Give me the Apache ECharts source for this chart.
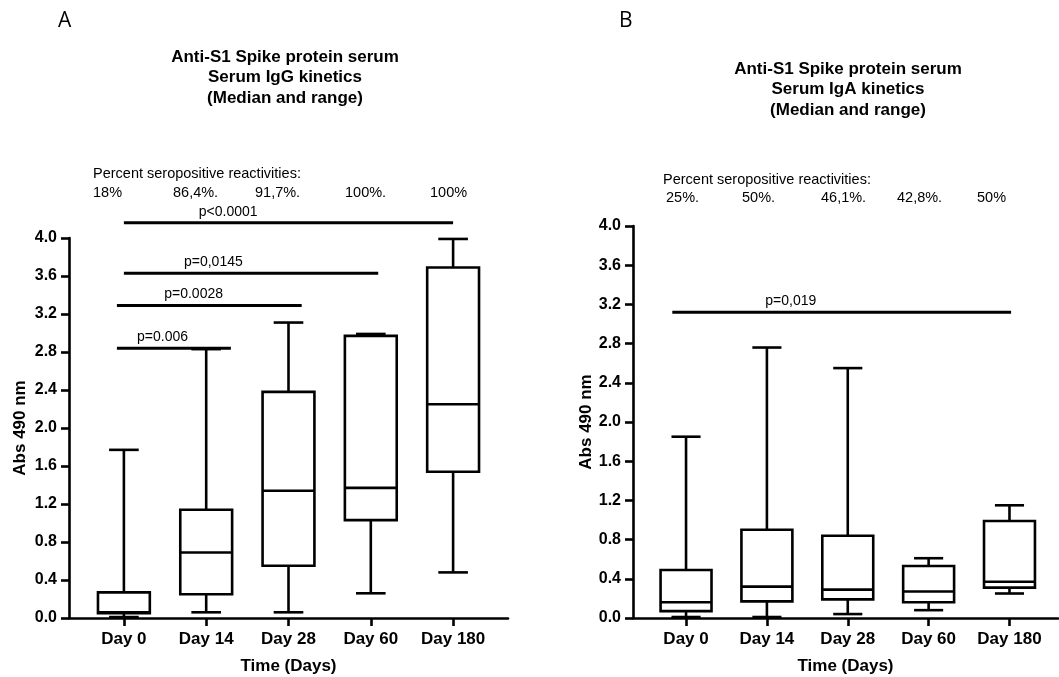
<!DOCTYPE html>
<html>
<head>
<meta charset="utf-8">
<script src="https://cdn.jsdelivr.net/npm/echarts@6/dist/echarts.min.js"></script>
<style>
  html, body { margin: 0; padding: 0; background: #fff; }
  #chart { width: 1059px; height: 677px; }
</style>
</head>
<body>
<div id="chart"></div>
<script>
const days = ['Day 0', 'Day 14', 'Day 28', 'Day 60', 'Day 180'];

// IgG: min, Q1, median, Q3, max per day
const iggMin = [0.01, 0.06, 0.06, 0.26, 0.48];
const iggQ1 = [0.05, 0.25, 0.55, 1.03, 1.54];
const iggMed = [0.06, 0.69, 1.34, 1.37, 2.25];
const iggQ3 = [0.27, 1.14, 2.38, 2.97, 3.69];
const iggMax = [1.77, 2.83, 3.11, 2.99, 3.99];

// IgA
const igaMin = [0.01, 0.01, 0.04, 0.08, 0.25];
const igaQ1 = [0.07, 0.17, 0.19, 0.16, 0.31];
const igaMed = [0.16, 0.32, 0.29, 0.27, 0.37];
const igaQ3 = [0.49, 0.90, 0.84, 0.53, 0.99];
const igaMax = [1.85, 2.76, 2.55, 0.61, 1.15];

const iggPct = ['18%', '86,4%.', '91,7%.', '100%.', '100%'];
const igaPct = ['25%.', '50%.', '46,1%.', '42,8%.', '50%'];

// significance bars: from / to (category index), height
const iggBars = [[0, 4, 4.16], [0, 3.09, 3.63], [-0.085, 2.16, 3.29], [-0.085, 1.3, 2.84]];
const iggBarText = ['p<0.0001', 'p=0,0145', 'p=0.0028', 'p=0.006'];
const iggBarTextX = [0.91, 0.73, 0.49, 0.16];
const igaBars = [[-0.17, 4.02, 3.12]];
const igaBarText = ['p=0,019'];
const igaBarTextX = [0.98];

const FONT = '"Liberation Sans", Arial, Helvetica, sans-serif';

function boxRows(mn, q1, md, q3, mx) {
  return days.map((d, i) => [i, mn[i], q1[i], md[i], q3[i], mx[i]]);
}

function boxItem(params, api) {
  const x = api.value(0);
  const lo = api.coord([x, api.value(1)]);
  const q1 = api.coord([x, api.value(2)]);
  const md = api.coord([x, api.value(3)]);
  const q3 = api.coord([x, api.value(4)]);
  const hi = api.coord([x, api.value(5)]);
  const band = api.size([1, 0])[0];
  const bw = band * 0.63 / 2;
  const cw = band * 0.36 / 2;
  const cx = lo[0];
  const st = { stroke: '#000', lineWidth: 2.6, fill: null };
  return {
    type: 'group',
    children: [
      { type: 'line', shape: { x1: cx, y1: hi[1], x2: cx, y2: q3[1] }, style: st },
      { type: 'line', shape: { x1: cx - cw, y1: hi[1], x2: cx + cw, y2: hi[1] }, style: st },
      { type: 'line', shape: { x1: cx, y1: lo[1], x2: cx, y2: q1[1] }, style: st },
      { type: 'line', shape: { x1: cx - cw, y1: lo[1], x2: cx + cw, y2: lo[1] }, style: st },
      { type: 'rect', shape: { x: cx - bw, y: q3[1], width: 2 * bw, height: q1[1] - q3[1] },
        style: { stroke: '#000', lineWidth: 2.6, fill: '#fff' } },
      { type: 'line', shape: { x1: cx - bw, y1: md[1], x2: cx + bw, y2: md[1] }, style: st }
    ]
  };
}

function barItemFor(texts, textX) {
  return function (params, api) {
    const a = api.coord([api.value(0), api.value(2)]);
    const b = api.coord([api.value(1), api.value(2)]);
    const t = api.coord([textX[params.dataIndex], api.value(2)]);
    return {
      type: 'group',
      children: [
        { type: 'line', shape: { x1: a[0], y1: a[1], x2: b[0], y2: b[1] },
          style: { stroke: '#000', lineWidth: 3 } },
        { type: 'text', x: t[0], y: t[1] - 4,
          style: { text: texts[params.dataIndex], fill: '#000', font: '14px ' + FONT,
                   align: 'left', verticalAlign: 'bottom' } }
      ]
    };
  };
}

function xAxisFor(gridIndex, min, max) {
  return {
    type: 'value', gridIndex, min, max,
    name: 'Time (Days)', nameLocation: 'middle', nameGap: 40,
    nameTextStyle: { fontFamily: FONT, fontWeight: 'bold', fontSize: 17, color: '#000' },
    axisLine: { show: true, onZero: false, lineStyle: { color: '#000', width: 2.6 } },
    axisTick: { show: true, customValues: [0, 1, 2, 3, 4], length: 8, lineStyle: { color: '#000', width: 2.6 } },
    axisLabel: { customValues: [0, 1, 2, 3, 4], margin: 13, formatter: v => days[Math.round(v)],
      fontFamily: FONT, fontWeight: 'bold', fontSize: 17, color: '#000' },
    splitLine: { show: false }
  };
}

function yAxisFor(gridIndex, gap) {
  return {
    type: 'value', gridIndex, min: 0, max: 4, interval: 0.4,
    name: 'Abs 490 nm', nameLocation: 'middle', nameGap: gap,
    nameTextStyle: { fontFamily: FONT, fontWeight: 'bold', fontSize: 17, color: '#000' },
    axisLine: { show: true, onZero: false, lineStyle: { color: '#000', width: 2.6 } },
    axisTick: { show: true, length: 8, lineStyle: { color: '#000', width: 2.6 } },
    axisLabel: { margin: 12, formatter: v => v.toFixed(1),
      fontFamily: FONT, fontWeight: 'bold', fontSize: 16, color: '#000' },
    splitLine: { show: false }
  };
}

function pctTexts(items, xs, y, headX, headY) {
  const out = [{ type: 'text', left: headX, top: headY - 8,
    style: { text: 'Percent seropositive reactivities:', font: '14.5px ' + FONT, fill: '#000' } }];
  items.forEach((t, i) => {
    out.push({ type: 'text', left: xs[i], top: y - 8, style: { text: t, font: '14.5px ' + FONT, fill: '#000' } });
  });
  return out;
}

const chart = echarts.init(document.getElementById('chart'));

chart.setOption({
  backgroundColor: '#fff',
  animation: false,
  grid: [
    { left: 69, right: 551, top: 238, bottom: 59, outerBoundsMode: 'none' },
    { left: 633, right: 1, top: 226, bottom: 59, outerBoundsMode: 'none' }
  ],
  xAxis: [xAxisFor(0, -0.667, 4.667), xAxisFor(1, -0.656, 4.6)],
  yAxis: [yAxisFor(0, 40), yAxisFor(1, 36)],
  graphic: [
    { type: 'text', left: 58, top: 11, style: { text: 'A', font: '21px "Open Sans", sans-serif', fill: '#000' } },
    { type: 'text', left: 619, top: 11, style: { text: 'B', font: '21px "Open Sans", sans-serif', fill: '#000' } },
    { type: 'text', x: 285, y: 47, style: { text: 'Anti-S1 Spike protein serum\nSerum IgG kinetics\n(Median and range)',
      font: 'bold 17px ' + FONT, lineHeight: 20.5, align: 'center', verticalAlign: 'top', fill: '#000' } },
    { type: 'text', x: 848, y: 59, style: { text: 'Anti-S1 Spike protein serum\nSerum IgA kinetics\n(Median and range)',
      font: 'bold 17px ' + FONT, lineHeight: 20.5, align: 'center', verticalAlign: 'top', fill: '#000' } }
  ].concat(
    pctTexts(iggPct, [93, 173, 255, 345, 430], 193, 93, 174),
    pctTexts(igaPct, [666, 742, 821, 897, 977], 198, 663, 180)
  ),
  series: [
    { type: 'custom', xAxisIndex: 0, yAxisIndex: 0, renderItem: boxItem,
      data: boxRows(iggMin, iggQ1, iggMed, iggQ3, iggMax), encode: { x: 0, y: [1, 2, 3, 4, 5] } },
    { type: 'custom', xAxisIndex: 1, yAxisIndex: 1, renderItem: boxItem,
      data: boxRows(igaMin, igaQ1, igaMed, igaQ3, igaMax), encode: { x: 0, y: [1, 2, 3, 4, 5] } },
    { type: 'custom', xAxisIndex: 0, yAxisIndex: 0, clip: false,
      renderItem: barItemFor(iggBarText, iggBarTextX), data: iggBars, encode: { x: [0, 1], y: 2 } },
    { type: 'custom', xAxisIndex: 1, yAxisIndex: 1, clip: false,
      renderItem: barItemFor(igaBarText, igaBarTextX), data: igaBars, encode: { x: [0, 1], y: 2 } }
  ]
});
</script>
</body>
</html>
